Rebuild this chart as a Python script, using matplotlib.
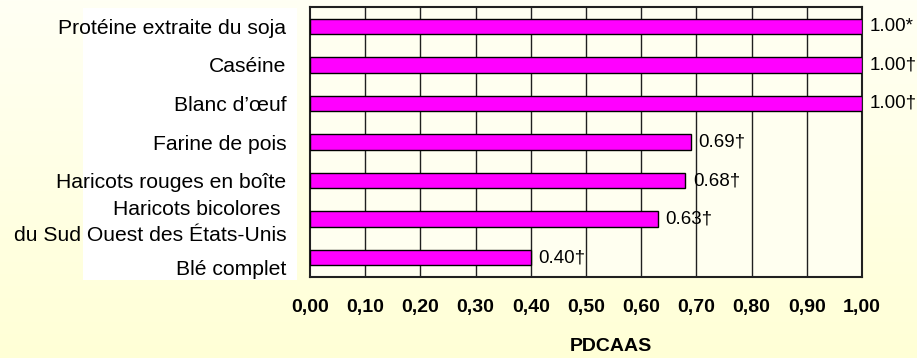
import matplotlib
matplotlib.use("Agg")
import matplotlib.pyplot as plt
import numpy as np
from matplotlib.colors import LinearSegmentedColormap
from matplotlib.patches import Rectangle
from matplotlib.transforms import ScaledTranslation

categories = [
    "Protéine extraite du soja",
    "Caséine",
    "Blanc d’œuf",
    "Farine de pois",
    "Haricots rouges en boîte",
    "Haricots bicolores \ndu Sud Ouest des États-Unis",
    "Blé complet",
]
values = [1.00, 1.00, 1.00, 0.69, 0.68, 0.63, 0.40]
marks = ["*", "†", "†", "†", "†", "†", "†"]
xticks = [0.0, 0.1, 0.2, 0.3, 0.4, 0.5, 0.6, 0.7, 0.8, 0.9, 1.0]
xtick_labels = ["0,00", "0,10", "0,20", "0,30", "0,40", "0,50",
                "0,60", "0,70", "0,80", "0,90", "1,00"]

sans = ["Liberation Sans", "DejaVu Sans"]

fig = plt.figure(figsize=(9.17, 3.58), dpi=100)

# pale yellow vertical gradient behind everything
bg = fig.add_axes([0, 0, 1, 1], zorder=-10)
cmap = LinearSegmentedColormap.from_list("bg", ["#FFFFF4", "#FFFFD6"])
bg.imshow(np.linspace(0, 1, 256).reshape(-1, 1), aspect="auto", cmap=cmap,
          extent=[0, 1, 0, 1])
bg.set_axis_off()
fig.patches.append(Rectangle((83 / 917, 1 - 280 / 358), (297 - 83) / 917, (280 - 8) / 358,
                             transform=fig.transFigure, facecolor="white",
                             edgecolor="none", zorder=-5))

ax = fig.add_axes([310 / 917, 1 - 277 / 358, (862 - 310) / 917, (277 - 7) / 358])
ax.set_facecolor("#FFFFF0")
y = np.arange(len(categories))
ax.barh(y, values, height=0.4, color="#FF00FF", edgecolor="black", linewidth=1, zorder=3)
for xv in xticks[1:-1]:
    ax.axvline(xv, color="#202020", linewidth=1, zorder=1)

for yi, v, m in zip(y, values, marks):
    ax.annotate(f"{v:.2f}{m}", (v, yi), xytext=(5.5, 0), textcoords="offset points",
                ha="left", va="center", fontsize=13.5, family=sans, zorder=4,
                annotation_clip=False)

ax.set_xlim(0, 1)
ax.set_ylim(len(categories) - 0.5, -0.5)
ax.set_yticks(y)
ax.set_yticklabels(categories, fontsize=15.2, family=sans, linespacing=1.5)
ax.set_xticks(xticks)
ax.set_xticklabels(xtick_labels, fontsize=14, family=sans, fontweight="bold")
ax.tick_params(axis="y", length=0, pad=17)
ax.tick_params(axis="x", length=0, pad=16)
ax.set_xlabel("PDCAAS", fontsize=14, family=sans, fontweight="bold", labelpad=16)
ax.xaxis.label.set_x(0.545)
for s in ax.spines.values():
    s.set_linewidth(1.5)
    s.set_color("#202020")

# the two-line label sits a bit high and the last one a bit low in the original
labels = ax.get_yticklabels()
labels[5].set_transform(labels[5].get_transform() + ScaledTranslation(0, 0.025, fig.dpi_scale_trans))
labels[6].set_transform(labels[6].get_transform() + ScaledTranslation(0, -0.1, fig.dpi_scale_trans))

fig.savefig("out.png", dpi=100)
